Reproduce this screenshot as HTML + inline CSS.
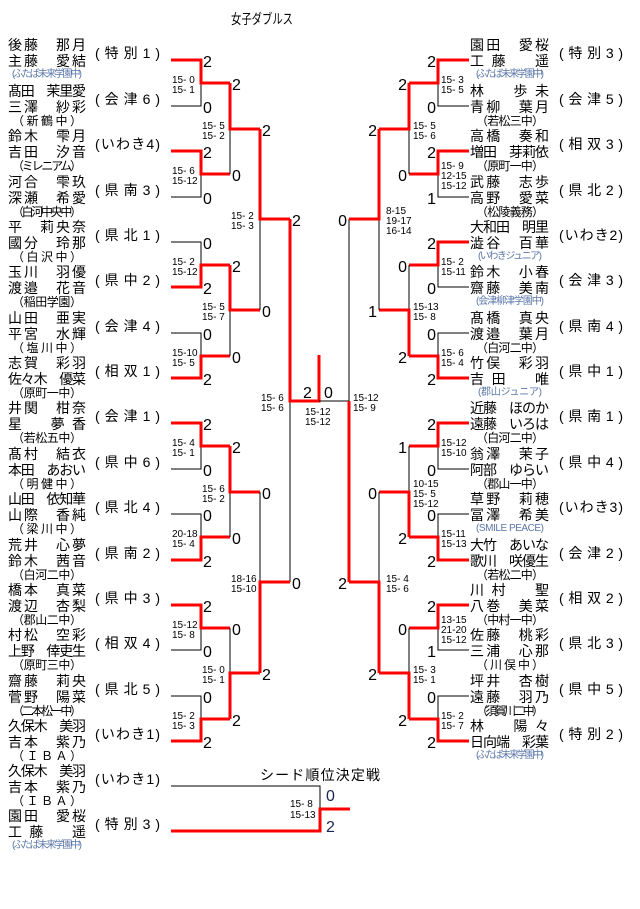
<!DOCTYPE html>
<html><head><meta charset="utf-8"><style>
html,body{margin:0;padding:0;background:#fff;width:640px;height:909px;overflow:hidden}
svg{display:block}
text{font-family:"Liberation Sans","Noto Sans CJK JP",sans-serif;fill:#000}
.n{font-size:14px}
.n .c{font-size:12px}
.s{font-size:10px;fill:#5a76a8}
.r{font-size:14px}
.sc{font-size:16px;fill:#1a2450}
.l{font-size:10px}
.k{stroke:#000;stroke-width:1;fill:none}
.w{stroke:#f00;stroke-width:3;fill:none}
</style></head><body>
<svg width="640" height="909" viewBox="0 0 640 909" xmlns="http://www.w3.org/2000/svg">
<text x="231" y="24" class="n" textLength="62" lengthAdjust="spacingAndGlyphs">女子ダブルス</text>

<!-- LEFT TEAMS -->
<g class="n">
<text x="8" y="50" textLength="78">後藤　那月</text><text x="8" y="66" textLength="78">主藤　愛結</text>
<text x="8" y="96" textLength="78">髙田　茉里愛</text><text x="8" y="112" textLength="78">三澤　紗彩</text><text class="c" x="12" y="125" textLength="70">（新鶴中）</text>
<text x="8" y="141" textLength="78">鈴木　雫月</text><text x="8" y="157" textLength="78">吉田　汐音</text><text class="c" x="12" y="170" textLength="70">（ミレニアム）</text>
<text x="8" y="187" textLength="78">河合　雫玖</text><text x="8" y="203" textLength="78">深瀬　希愛</text><text class="c" x="12" y="216" textLength="70">（白河中央中）</text>
<text x="8" y="232" textLength="78">平　莉央奈</text><text x="8" y="248" textLength="78">國分　玲那</text><text class="c" x="12" y="261" textLength="70">（白沢中）</text>
<text x="8" y="277" textLength="78">玉川　羽優</text><text x="8" y="293" textLength="78">渡邉　花音</text><text class="c" x="12" y="306" textLength="70">（稲田学園）</text>
<text x="8" y="323" textLength="78">山田　亜実</text><text x="8" y="339" textLength="78">平宮　水輝</text><text class="c" x="12" y="352" textLength="70">（塩川中）</text>
<text x="8" y="368" textLength="78">志賀　彩羽</text><text x="8" y="384" textLength="78">佐々木　優菜</text><text class="c" x="12" y="397" textLength="70">（原町一中）</text>
<text x="8" y="413" textLength="78">井関　柑奈</text><text x="8" y="429" textLength="78">星　夢香</text><text class="c" x="12" y="442" textLength="70">（若松五中）</text>
<text x="8" y="459" textLength="78">髙村　結衣</text><text x="8" y="475" textLength="78">本田　あおい</text><text class="c" x="12" y="488" textLength="70">（明健中）</text>
<text x="8" y="504" textLength="78">山田　依知華</text><text x="8" y="520" textLength="78">山際　香純</text><text class="c" x="12" y="533" textLength="70">（梁川中）</text>
<text x="8" y="550" textLength="78">荒井　心夢</text><text x="8" y="566" textLength="78">鈴木　茜音</text><text class="c" x="12" y="579" textLength="70">（白河二中）</text>
<text x="8" y="595" textLength="78">橋本　真菜</text><text x="8" y="611" textLength="78">渡辺　杏梨</text><text class="c" x="12" y="624" textLength="70">（郡山二中）</text>
<text x="8" y="640" textLength="78">村松　空彩</text><text x="8" y="656" textLength="78">上野　倖吏生</text><text class="c" x="12" y="669" textLength="70">（原町三中）</text>
<text x="8" y="686" textLength="78">齋藤　莉央</text><text x="8" y="702" textLength="78">菅野　陽菜</text><text class="c" x="12" y="715" textLength="70">（二本松一中）</text>
<text x="8" y="731" textLength="78">久保木　美羽</text><text x="8" y="747" textLength="78">吉本　紫乃</text><text class="c" x="12" y="760" textLength="70">（ＩＢＡ）</text>
<text x="8" y="776" textLength="78">久保木　美羽</text><text x="8" y="792" textLength="78">吉本　紫乃</text><text class="c" x="12" y="805" textLength="70">（ＩＢＡ）</text>
<text x="8" y="821" textLength="78">園田　愛桜</text><text x="8" y="837" textLength="78">工藤　遥</text>
</g>
<text x="12" y="77" class="s" textLength="70">(ふたば未来学園中)</text>
<text x="12" y="848" class="s" textLength="70">(ふたば未来学園中)</text>
<g class="r">
<text x="95" y="58" textLength="65">(特別1)</text>
<text x="95" y="104" textLength="65">(会津6)</text>
<text x="95" y="149" textLength="65">(いわき4)</text>
<text x="95" y="195" textLength="65">(県南3)</text>
<text x="95" y="240" textLength="65">(県北1)</text>
<text x="95" y="285" textLength="65">(県中2)</text>
<text x="95" y="331" textLength="65">(会津4)</text>
<text x="95" y="376" textLength="65">(相双1)</text>
<text x="95" y="421" textLength="65">(会津1)</text>
<text x="95" y="467" textLength="65">(県中6)</text>
<text x="95" y="512" textLength="65">(県北4)</text>
<text x="95" y="558" textLength="65">(県南2)</text>
<text x="95" y="603" textLength="65">(県中3)</text>
<text x="95" y="648" textLength="65">(相双4)</text>
<text x="95" y="694" textLength="65">(県北5)</text>
<text x="95" y="739" textLength="65">(いわき1)</text>
<text x="95" y="784" textLength="65">(いわき1)</text>
<text x="95" y="829" textLength="65">(特別3)</text>
</g>

<!-- RIGHT TEAMS -->
<g class="n">
<text x="470" y="50" textLength="79">園田　愛桜</text><text x="470" y="66" textLength="79">工藤　遥</text>
<text x="470" y="96" textLength="79">林　歩未</text><text x="470" y="112" textLength="79">青柳　葉月</text><text class="c" x="476" y="125" textLength="68">（若松三中）</text>
<text x="470" y="141" textLength="79">高橋　奏和</text><text x="470" y="157" textLength="79">増田　芽莉依</text><text class="c" x="476" y="170" textLength="68">（原町一中）</text>
<text x="470" y="187" textLength="79">武藤　志歩</text><text x="470" y="203" textLength="79">高野　愛菜</text><text class="c" x="476" y="216" textLength="68">（松陵義務）</text>
<text x="470" y="232" textLength="79">大和田　明里</text><text x="470" y="248" textLength="79">澁谷　百華</text>
<text x="470" y="277" textLength="79">鈴木　小春</text><text x="470" y="293" textLength="79">齋藤　美南</text>
<text x="470" y="323" textLength="79">髙橋　真央</text><text x="470" y="339" textLength="79">渡邉　葉月</text><text class="c" x="476" y="352" textLength="68">（白河二中）</text>
<text x="470" y="368" textLength="79">竹俣　彩羽</text><text x="470" y="384" textLength="79">吉田　唯</text>
<text x="470" y="413" textLength="79">近藤　ほのか</text><text x="470" y="429" textLength="79">遠藤　いろは</text><text class="c" x="476" y="442" textLength="68">（白河二中）</text>
<text x="470" y="459" textLength="79">翁澤　茉子</text><text x="470" y="475" textLength="79">阿部　ゆらい</text><text class="c" x="476" y="488" textLength="68">（郡山一中）</text>
<text x="470" y="504" textLength="79">草野　莉穂</text><text x="470" y="520" textLength="79">冨澤　希美</text>
<text x="470" y="550" textLength="79">大竹　あいな</text><text x="470" y="566" textLength="79">歌川　咲優生</text><text class="c" x="476" y="579" textLength="68">（若松二中）</text>
<text x="470" y="595" textLength="79">川村　聖</text><text x="470" y="611" textLength="79">八巻　美菜</text><text class="c" x="476" y="624" textLength="68">（中村一中）</text>
<text x="470" y="640" textLength="79">佐藤　桃彩</text><text x="470" y="656" textLength="79">三浦　心那</text><text class="c" x="476" y="669" textLength="68">（川俣中）</text>
<text x="470" y="686" textLength="79">坪井　杏樹</text><text x="470" y="702" textLength="79">遠藤　羽乃</text><text class="c" x="476" y="715" textLength="68">（須賀川二中）</text>
<text x="470" y="731" textLength="79">林　陽々</text><text x="470" y="747" textLength="79">日向端　彩葉</text>
</g>
<text x="476" y="77" class="s" textLength="68">(ふたば未来学園中)</text>
<text x="478" y="259" class="s" textLength="64">(いわきジュニア)</text>
<text x="476" y="304" class="s" textLength="68">(会津柳津学園中)</text>
<text x="478" y="395" class="s" textLength="64">(郡山ジュニア)</text>
<text x="476" y="531" class="s" textLength="68">(SMILE PEACE)</text>
<text x="476" y="758" class="s" textLength="68">(ふたば未来学園中)</text>
<g class="r">
<text x="559" y="58" textLength="64">(特別3)</text>
<text x="559" y="104" textLength="64">(会津5)</text>
<text x="559" y="149" textLength="64">(相双3)</text>
<text x="559" y="195" textLength="64">(県北2)</text>
<text x="559" y="240" textLength="64">(いわき2)</text>
<text x="559" y="285" textLength="64">(会津3)</text>
<text x="559" y="331" textLength="64">(県南4)</text>
<text x="559" y="376" textLength="64">(県中1)</text>
<text x="559" y="421" textLength="64">(県南1)</text>
<text x="559" y="467" textLength="64">(県中4)</text>
<text x="559" y="512" textLength="64">(いわき3)</text>
<text x="559" y="558" textLength="64">(会津2)</text>
<text x="559" y="603" textLength="64">(相双2)</text>
<text x="559" y="648" textLength="64">(県北3)</text>
<text x="559" y="694" textLength="64">(県中5)</text>
<text x="559" y="739" textLength="64">(特別2)</text>
</g>

<!-- LEFT BRACKET LINES -->
<path class="k" d="M171 106H201V83 M171 197H201V174 M171 242H201V265 M171 333H201V356 M171 469H201V446 M171 514H201V537 M171 650H201V628 M171 696H201V719"/>
<path class="w" d="M171 60H201V83H230 M171 151H201V174H230 M171 287H201V265H230 M171 378H201V356H230 M171 423H201V446H230 M171 560H201V537H230 M171 605H201V628H230 M171 741H201V719H230"/>
<path class="k" d="M230 129V174 M230 310V356 M230 492V537 M230 628V673"/>
<path class="w" d="M230 83V129H260 M230 265V310H260 M230 446V492H260 M230 719V673H260"/>
<path class="k" d="M260 219V310 M260 492V582 M290 401V582"/>
<path class="w" d="M260 129V219H290 M260 673V582H290"/>
<path class="w" d="M290 219V401H319V355"/>
<path class="k" d="M319 401H349V219"/>
<path class="w" d="M349 401V582"/>

<!-- RIGHT BRACKET LINES -->
<path class="k" d="M469 106H438V83 M469 197H438V174 M469 287H438V265 M469 333H438V356 M469 469H438V446 M469 514H438V537 M469 650H438V628 M469 696H438V719"/>
<path class="w" d="M469 60H438V83H409 M469 151H438V174H409 M469 242H438V265H409 M469 378H438V356H409 M469 423H438V446H409 M469 560H438V537H409 M469 605H438V628H409 M469 741H438V719H409"/>
<path class="k" d="M409 129V174 M409 265V310 M409 446V492 M409 628V673"/>
<path class="w" d="M409 83V129H379 M409 356V310H379 M409 537V492H379 M409 719V673H379"/>
<path class="k" d="M379 219V310 M379 492V582"/>
<path class="w" d="M379 129V219H349 M379 673V582H349"/>

<!-- SEED MATCH -->
<path class="k" d="M171 786H320V809"/>
<path class="w" d="M171 831H320V809H350"/>
<text x="260" y="780" font-size="14" textLength="120">シード順位決定戦</text>
<text x="326" y="801" class="sc">0</text>
<text x="326" y="832" class="sc">2</text>
<text x="290" y="807" class="l">15- 8</text><text x="290" y="818" class="l">15-13</text>

<!-- LEFT SCORES -->
<g class="sc">
<text x="203" y="67">2</text><text x="203" y="113">0</text><text x="203" y="158">2</text><text x="203" y="204">0</text>
<text x="203" y="249">0</text><text x="203" y="294">2</text><text x="203" y="340">0</text><text x="203" y="385">2</text>
<text x="203" y="430">2</text><text x="203" y="476">0</text><text x="203" y="521">0</text><text x="203" y="567">2</text>
<text x="203" y="612">2</text><text x="203" y="657">0</text><text x="203" y="703">0</text><text x="203" y="748">2</text>
<text x="232" y="90">2</text><text x="232" y="181">0</text><text x="232" y="272">2</text><text x="232" y="363">0</text>
<text x="232" y="453">2</text><text x="232" y="544">0</text><text x="232" y="635">0</text><text x="232" y="726">2</text>
<text x="262" y="136">2</text><text x="262" y="317">0</text><text x="262" y="499">0</text><text x="262" y="680">2</text>
<text x="292" y="226">2</text><text x="292" y="589">0</text>
<text x="303" y="398">2</text><text x="324" y="398">0</text>
</g>
<!-- RIGHT SCORES -->
<g class="sc" text-anchor="end">
<text x="436" y="67">2</text><text x="436" y="113">0</text><text x="436" y="158">2</text><text x="436" y="204">1</text>
<text x="436" y="249">2</text><text x="436" y="294">0</text><text x="436" y="340">0</text><text x="436" y="385">2</text>
<text x="436" y="430">2</text><text x="436" y="476">0</text><text x="436" y="521">0</text><text x="436" y="567">2</text>
<text x="436" y="612">2</text><text x="436" y="657">1</text><text x="436" y="703">0</text><text x="436" y="748">2</text>
<text x="407" y="90">2</text><text x="407" y="181">0</text><text x="407" y="272">0</text><text x="407" y="363">2</text>
<text x="407" y="453">1</text><text x="407" y="544">2</text><text x="407" y="635">0</text><text x="407" y="726">2</text>
<text x="377" y="136">2</text><text x="377" y="317">1</text><text x="377" y="499">0</text><text x="377" y="680">2</text>
<text x="347" y="226">0</text><text x="347" y="589">2</text>
</g>

<!-- MATCH LABELS -->
<g class="l">
<text x="172" y="83">15- 0</text><text x="172" y="93">15- 1</text>
<text x="172" y="174">15- 6</text><text x="172" y="184">15-12</text>
<text x="172" y="265">15- 2</text><text x="172" y="275">15-12</text>
<text x="172" y="356">15-10</text><text x="172" y="366">15- 5</text>
<text x="172" y="446">15- 4</text><text x="172" y="456">15- 1</text>
<text x="172" y="537">20-18</text><text x="172" y="547">15- 4</text>
<text x="172" y="628">15-12</text><text x="172" y="638">15- 8</text>
<text x="172" y="719">15- 2</text><text x="172" y="729">15- 3</text>
<text x="202" y="129">15- 5</text><text x="202" y="139">15- 2</text>
<text x="202" y="310">15- 5</text><text x="202" y="320">15- 7</text>
<text x="202" y="492">15- 6</text><text x="202" y="502">15- 2</text>
<text x="202" y="673">15- 0</text><text x="202" y="683">15- 1</text>
<text x="231" y="219">15- 2</text><text x="231" y="229">15- 3</text>
<text x="231" y="582">18-16</text><text x="231" y="592">15-10</text>
<text x="261" y="401">15- 6</text><text x="261" y="411">15- 6</text>
<text x="305" y="415">15-12</text><text x="305" y="425">15-12</text>
<text x="441" y="83">15- 3</text><text x="441" y="93">15- 5</text>
<text x="441" y="169">15- 9</text><text x="441" y="179">12-15</text><text x="441" y="189">15-12</text>
<text x="441" y="265">15- 2</text><text x="441" y="275">15-11</text>
<text x="441" y="356">15- 6</text><text x="441" y="366">15- 4</text>
<text x="441" y="446">15-12</text><text x="441" y="456">15-10</text>
<text x="441" y="537">15-11</text><text x="441" y="547">15-13</text>
<text x="441" y="623">13-15</text><text x="441" y="633">21-20</text><text x="441" y="643">15-12</text>
<text x="441" y="719">15- 2</text><text x="441" y="729">15- 7</text>
<text x="413" y="129">15- 5</text><text x="413" y="139">15- 6</text>
<text x="413" y="310">15-13</text><text x="413" y="320">15- 8</text>
<text x="413" y="487">10-15</text><text x="413" y="497">15- 5</text><text x="413" y="507">15-12</text>
<text x="413" y="673">15- 3</text><text x="413" y="683">15- 1</text>
<text x="386" y="214">8-15</text><text x="386" y="224">19-17</text><text x="386" y="234">16-14</text>
<text x="386" y="582">15- 4</text><text x="386" y="592">15- 6</text>
<text x="353" y="401">15-12</text><text x="353" y="411">15- 9</text>
</g>
</svg>
</body></html>
